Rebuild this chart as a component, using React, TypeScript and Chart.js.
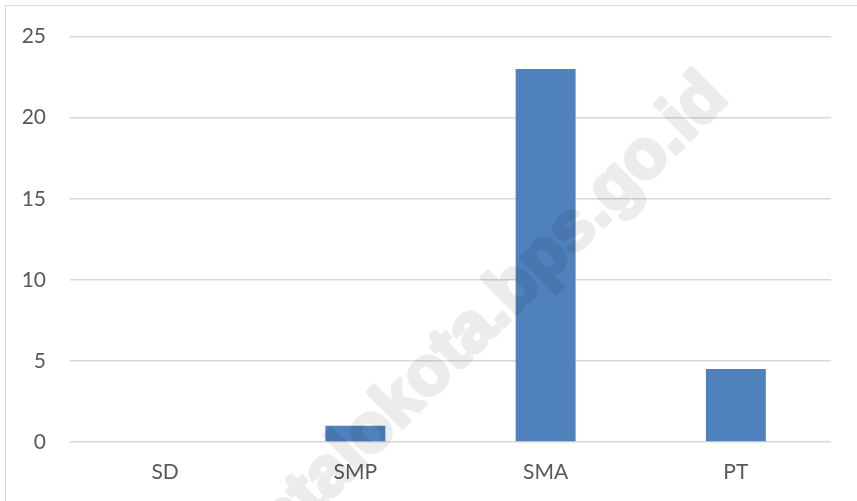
import React, { useEffect, useRef } from "react";
import { Chart, registerables } from "chart.js";

Chart.register(...registerables);

const categories = ["SD", "SMP", "SMA", "PT"];
const values = [0, 1, 23, 4.5];
const yTicks = [0, 5, 10, 15, 20, 25];
const watermark = "gorontalokota.bps.go.id";

const FONT = "Lato, 'Open Sans', 'Liberation Sans', sans-serif";

const watermarkPlugin = {
  id: "watermark",
  afterDraw(chart: any) {
    const ctx = chart.ctx;
    const off = document.createElement("canvas");
    off.width = chart.width;
    off.height = chart.height;
    const o = off.getContext("2d")!;
    o.translate(730, 100);
    o.rotate(-Math.PI / 4);
    o.font = "bold 69px 'Liberation Sans', Arial, sans-serif";
    o.fillStyle = "#000";
    o.strokeStyle = "#000";
    o.lineWidth = 4;
    o.lineJoin = "round";
    o.textAlign = "right";
    o.textBaseline = "alphabetic";
    o.strokeText(watermark, 0, 0);
    o.fillText(watermark, 0, 0);
    ctx.save();
    ctx.globalAlpha = 0.075;
    ctx.drawImage(off, 0, 0, chart.width, chart.height);
    ctx.restore();
  },
};

export default function App() {
  const ref = useRef<HTMLCanvasElement>(null);

  useEffect(() => {
    document.body.style.margin = "0";
    const chart = new Chart(ref.current!, {
      type: "bar",
      data: {
        labels: categories,
        datasets: [
          {
            data: values,
            backgroundColor: "#4f81bd",
            borderWidth: 0,
            barPercentage: 1,
            categoryPercentage: 0.315,
          },
        ],
      },
      options: {
        responsive: false,
        animation: false,
        layout: { padding: { left: 0, right: 26, top: 35, bottom: 0 } },
        plugins: {
          legend: { display: false },
          tooltip: { enabled: false },
        },
        scales: {
          x: {
            grid: { display: false, drawTicks: false },
            border: { display: false },
            ticks: {
              color: "#595959",
              font: { family: FONT, size: 21 },
              padding: 18,
            },
            afterFit(scale: any) {
              scale.height = 59;
            },
          },
          y: {
            min: 0,
            max: 25,
            afterBuildTicks(scale: any) {
              scale.ticks = yTicks.map((v) => ({ value: v }));
            },
            grid: { color: "#d9d9d9", lineWidth: 1.5, drawTicks: false },
            border: { display: false },
            ticks: {
              color: "#595959",
              font: { family: FONT, size: 21 },
              padding: 24,
            },
            afterFit(scale: any) {
              scale.width = 70;
            },
          },
        },
      },
      plugins: [watermarkPlugin],
    });
    return () => chart.destroy();
  }, []);

  return (
    <div style={{ position: "absolute", left: 0, top: 0, width: 857, height: 501, background: "#fff", overflow: "hidden" }}>
      <div
        style={{
          position: "absolute",
          left: 5,
          top: 5,
          width: 900,
          height: 600,
          border: "1.5px solid #d9d9d9",
          boxSizing: "border-box",
        }}
      />
      <canvas ref={ref} width={857} height={501} style={{ position: "absolute", left: 0, top: 0 }} />
    </div>
  );
}
